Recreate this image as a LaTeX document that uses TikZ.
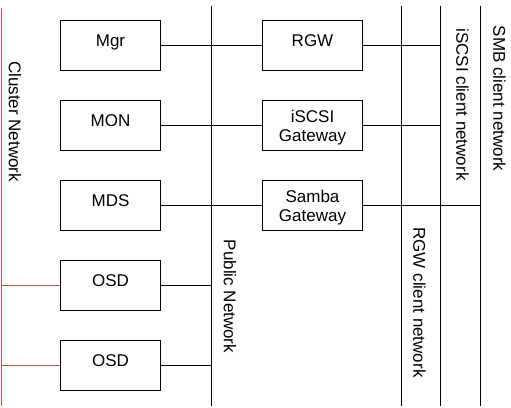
\documentclass[tikz,border=0pt]{standalone}
\usepackage{fontspec}
\setmainfont{Liberation Sans}
\definecolor{clusterred}{RGB}{184, 84, 80}
\usetikzlibrary{positioning, calc}

\begin{document}
\begin{tikzpicture}[
  x=1pt, y=-1pt, line width=1pt,
  cbox/.style={draw, minimum width=100pt, minimum height=50pt, inner sep=0pt, align=center, font=\fontsize{17}{19}\selectfont},
  onerow/.style={text height=12.5pt, text depth=11pt},
  tworow/.style={text depth=0pt},
  netlabel/.style={rotate=-90, inner sep=0pt, font=\fontsize{17}{19}\selectfont}
]
  \useasboundingbox (-0.5,-0.5) rectangle (510.5,406.5);

  % network buses
  \coordinate (clusterT) at (1, 7);
  \coordinate (clusterB) at (1, 405);
  \coordinate (publicT) at (211, 5);
  \coordinate (publicB) at (211, 405);
  \coordinate (rgwnetT) at (401, 5);
  \coordinate (rgwnetB) at (401, 405);
  \coordinate (iscsinetT) at (440, 5);
  \coordinate (iscsinetB) at (440, 405);
  \coordinate (smbnetT) at (480, 5);
  \coordinate (smbnetB) at (480, 405);

  \draw[clusterred] (clusterT) -- (clusterB);
  \draw (publicT) -- (publicB);
  \draw (rgwnetT) -- (rgwnetB);
  \draw (iscsinetT) -- (iscsinetB);
  \draw (smbnetT) -- (smbnetB);

  \node[netlabel] (clusterlbl) at (14.5, 121) {Cluster Network};
  \node[netlabel] (publiclbl) at (229.5, 296) {Public Network};
  \node[netlabel] (rgwnetlbl) at (419, 302) {RGW client network};
  \node[netlabel] (iscsinetlbl) at (462, 104) {iSCSI client network};
  \node[netlabel] (smbnetlbl) at (499, 98) {SMB client network};

  % daemons
  \node[cbox, onerow] (mgr) at (110, 45) {Mgr};
  \node[cbox, onerow] (mon) at (110, 125) {MON};
  \node[cbox, onerow] (mds) at (110, 205) {MDS};
  \node[cbox, onerow] (osdA) at (110, 285) {OSD};
  \node[cbox, onerow] (osdB) at (110, 365) {OSD};

  % gateways
  \node[cbox, onerow] (rgw) at (312, 45) {RGW};
  \node[cbox, tworow] (iscsi) at (312, 125) {iSCSI\\Gateway};
  \node[cbox, tworow] (samba) at (312, 205) {Samba\\Gateway};

  \draw (mgr) -- (rgw);
  \draw (mon) -- (iscsi);
  \draw (mds) -- (samba);
  \draw (osdA.east) -- (osdA.east -| publicT);
  \draw (osdB.east) -- (osdB.east -| publicT);
  \draw[clusterred] (osdA.west) -- (osdA.west -| clusterT);
  \draw[clusterred] (osdB.west) -- (osdB.west -| clusterT);
  \draw (rgw.east) -- (rgw.east -| iscsinetT);
  \draw (iscsi.east) -- (iscsi.east -| iscsinetT);
  \draw (samba.east) -- (samba.east -| smbnetT);
\end{tikzpicture}
\end{document}
